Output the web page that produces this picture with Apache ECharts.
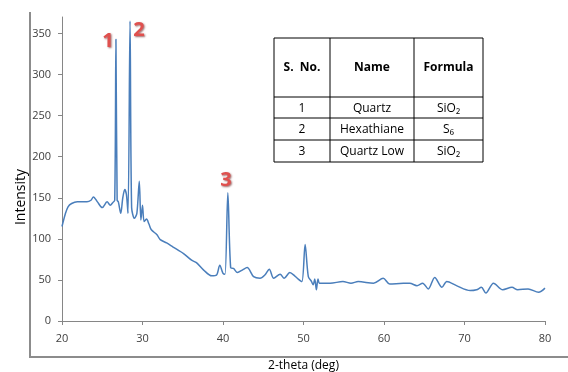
<!DOCTYPE html>
<html>
<head>
<meta charset="utf-8">
<script src="https://cdn.jsdelivr.net/npm/echarts@6/dist/echarts.min.js"></script>
<style>
html, body { margin: 0; padding: 0; background: #fff; }
#chart { width: 568px; height: 372px; }
</style>
</head>
<body>
<div id="chart"></div>
<script>
// XRD pattern
var theta = [20, 20.4, 20.75, 21.2, 21.9, 23.1, 23.6, 23.9, 24.4, 25.0, 25.6, 26.0, 26.3, 26.55, 26.7, 26.85,
  27.0, 27.3, 27.55, 27.8, 28.0, 28.2, 28.45, 28.65, 29.0, 29.3, 29.6, 29.8, 30.0, 30.2, 30.5, 30.8,
  31.1, 31.8, 32.2, 33.0, 33.8, 35.1, 36.1, 36.7, 37.6, 38.6, 39.2, 39.6, 40.0, 40.25, 40.6, 40.95,
  41.3, 41.8, 42.4, 43.0, 43.8, 44.6, 45.2, 45.75, 46.3, 47.1, 47.6, 48.3, 48.9, 49.35, 49.8, 50.2,
  50.6, 51.0, 51.2, 51.4, 51.6, 51.8, 52.0, 53.3, 54.9, 55.9, 56.8, 58.7, 59.9, 60.7, 62.4, 63.2,
  64.1, 64.8, 65.5, 66.3, 67.2, 67.8, 69.0, 70.7, 71.5, 72.1, 72.65, 73.6, 74.75, 75.9, 76.6, 77.9, 79.2, 80]
var intensity = [115, 130, 139, 143, 145, 145, 147, 151, 145, 138, 145, 141, 144, 147, 343, 147,
  145, 131, 150, 160, 154, 131, 365, 138, 125, 131, 170, 123, 141, 121, 124, 118,
  111, 105, 99, 95, 90, 82, 74, 71, 62, 55, 56, 68, 58, 57, 156, 65,
  64, 59, 62, 65, 54, 52, 56, 63, 52, 57, 52, 59, 55, 51, 48, 93,
  54, 48, 44, 51, 38, 51, 46, 46, 48, 46, 48, 46, 52, 45, 46, 46,
  43, 46, 39, 53, 41, 48, 43, 37, 38, 41, 34, 46, 38, 41, 38, 39, 35, 40]
var yTicks = [0, 50, 100, 150, 200, 250, 300, 350]

// table contents
var tableHead = ['S.  No.', 'Name', 'Formula']
var tableRows = [
  ['1', 'Quartz', 'SiO₂'],
  ['2', 'Hexathiane', 'S₆'],
  ['3', 'Quartz Low', 'SiO₂']
]
var peakLabels = ['1', '2', '3']

var font = '"Open Sans", "DejaVu Sans", sans-serif'
var colX = [274, 330, 414, 483]
var rowY = [38, 97, 118, 140, 162]

var graphics = []
// outer frame (left + bottom)
graphics.push({ type: 'line', shape: { x1: 30, y1: 12, x2: 30, y2: 357 }, style: { stroke: '#8c8c8c', lineWidth: 2 } })
graphics.push({ type: 'line', shape: { x1: 29, y1: 357, x2: 568, y2: 357 }, style: { stroke: '#8c8c8c', lineWidth: 2 } })

// table
graphics.push({ type: 'rect', shape: { x: colX[0], y: rowY[0], width: colX[3] - colX[0], height: rowY[4] - rowY[0] },
  style: { fill: '#fff', stroke: '#000', lineWidth: 1 } })
for (var i = 1; i < 3; i++) {
  graphics.push({ type: 'line', shape: { x1: colX[i], y1: rowY[0], x2: colX[i], y2: rowY[4] }, style: { stroke: '#000', lineWidth: 1 } })
}
for (var j = 1; j < 4; j++) {
  graphics.push({ type: 'line', shape: { x1: colX[0], y1: rowY[j], x2: colX[3], y2: rowY[j] }, style: { stroke: '#000', lineWidth: 1 } })
}
tableHead.forEach(function (t, c) {
  graphics.push({ type: 'text', x: (colX[c] + colX[c + 1]) / 2, y: (rowY[0] + rowY[1]) / 2,
    style: { text: t, font: 'bold 12px ' + font, fill: '#000', align: 'center', verticalAlign: 'middle' } })
})
tableRows.forEach(function (row, r) {
  row.forEach(function (t, c) {
    graphics.push({ type: 'text', x: (colX[c] + colX[c + 1]) / 2, y: (rowY[r + 1] + rowY[r + 2]) / 2 + 1,
      style: { text: t, font: '12px ' + font, fill: '#000', align: 'center', verticalAlign: 'middle' } })
  })
})

// red peak numbers
var labelPos = [[108, 41], [139, 30], [226, 180]]
peakLabels.forEach(function (t, k) {
  graphics.push({ type: 'text', x: labelPos[k][0], y: labelPos[k][1],
    style: { text: t, font: 'bold 20px ' + font, fill: '#e0504e', align: 'center', verticalAlign: 'middle',
      textShadowColor: 'rgba(90,0,0,0.6)', textShadowBlur: 2, textShadowOffsetX: 1, textShadowOffsetY: 1 } })
})

var chart = echarts.init(document.getElementById('chart'))
chart.setOption({
  animation: false,
  grid: { left: 62, right: 23, top: 17, bottom: 51, outerBoundsMode: 'none' },
  xAxis: {
    type: 'value',
    min: 20,
    max: 80,
    interval: 10,
    name: '2-theta (deg)',
    nameLocation: 'middle',
    nameGap: 39,
    nameMoveOverlap: false,
    nameTextStyle: { fontFamily: font, fontSize: 12, color: '#000' },
    axisLine: { lineStyle: { color: '#868686', width: 1 } },
    axisTick: { show: true, length: 4, lineStyle: { color: '#868686' } },
    axisLabel: { fontFamily: font, fontSize: 11, color: '#404040', margin: 12 },
    splitLine: { show: false }
  },
  yAxis: {
    type: 'value',
    min: 0,
    max: 370,
    name: 'Intensity',
    nameLocation: 'middle',
    nameGap: 34,
    nameMoveOverlap: false,
    nameTextStyle: { fontFamily: font, fontSize: 14, color: '#000', padding: [0, 56, 0, 0] },
    axisLine: { show: true, lineStyle: { color: '#868686', width: 1 } },
    axisTick: { show: true, length: 4, customValues: yTicks, lineStyle: { color: '#868686' } },
    axisLabel: { fontFamily: font, fontSize: 11, color: '#404040', margin: 11, customValues: yTicks },
    splitLine: { show: false }
  },
  series: [{
    type: 'line',
    data: theta.map(function (x, i) { return [x, intensity[i]] }),
    smooth: 0.3,
    showSymbol: false,
    lineStyle: { color: '#4a7ebb', width: 1.5 }
  }],
  graphic: graphics
})
</script>
</body>
</html>
